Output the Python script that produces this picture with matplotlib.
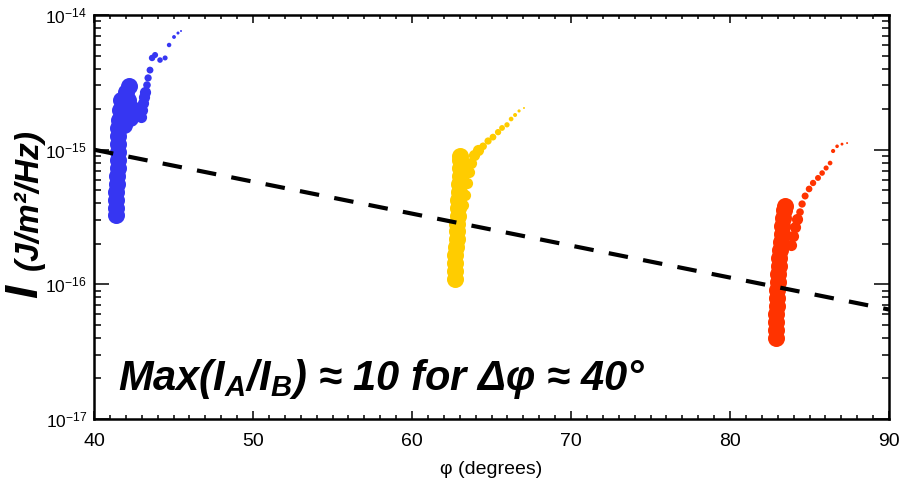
import numpy as np
import matplotlib
matplotlib.use('Agg')
import matplotlib.pyplot as plt
from matplotlib import font_manager, ticker

# --- data: phi in degrees, I in J/m^2/Hz ---
blue_core_phi = [41.38, 41.38, 41.38, 41.40, 41.42, 41.45, 41.48, 41.51, 41.51, 41.51,
                 41.51, 41.51, 41.55, 41.64, 41.70, 41.82, 42.01, 42.20, 42.14, 42.33,
                 42.26, 41.89]
blue_core_I = [3.27e-16, 3.69e-16, 4.23e-16, 4.85e-16, 5.56e-16, 6.38e-16, 7.31e-16, 8.39e-16,
               9.61e-16, 1.10e-15, 1.26e-15, 1.45e-15, 1.66e-15, 1.97e-15, 2.34e-15, 2.34e-15,
               2.68e-15, 2.97e-15, 2.34e-15, 2.04e-15, 1.72e-15, 1.53e-15]
blue_branch_phi = [42.96, 43.02, 43.08, 43.14, 43.21]
blue_branch_I = [1.75e-15, 1.97e-15, 2.22e-15, 2.46e-15, 2.68e-15]
blue_tail_phi = [43.33, 43.40, 43.52, 43.65, 43.84, 44.15, 44.47, 44.72, 45.03, 45.28, 45.47]
blue_tail_I = [3.02e-15, 3.41e-15, 3.90e-15, 4.80e-15, 5.05e-15, 4.63e-15, 4.80e-15,
               5.99e-15, 6.87e-15, 7.35e-15, 7.61e-15]

yellow_core_phi = [62.70, 62.70, 62.70, 62.70, 62.77, 62.83, 62.83, 62.83, 62.89, 62.89,
                   62.89, 62.96, 62.96, 63.02, 63.02, 63.02, 63.02]
yellow_core_I = [1.10e-16, 1.26e-16, 1.44e-16, 1.65e-16, 1.90e-16, 2.17e-16, 2.49e-16, 2.81e-16,
                 3.22e-16, 3.69e-16, 4.23e-16, 4.85e-16, 5.56e-16, 6.38e-16, 7.31e-16, 8.39e-16,
                 8.98e-16]
yellow_branch_phi = [63.21, 63.33, 63.46, 63.58, 63.71, 63.90, 64.15]
yellow_branch_I = [3.88e-16, 4.61e-16, 5.66e-16, 6.83e-16, 7.96e-16, 9.14e-16, 9.95e-16]
yellow_tail_phi = [64.47, 64.78, 65.09, 65.41, 65.66, 65.97, 66.23, 66.48, 66.73, 67.04]
yellow_tail_I = [1.06e-15, 1.16e-15, 1.24e-15, 1.35e-15, 1.45e-15, 1.53e-15, 1.69e-15,
                 1.81e-15, 1.94e-15, 2.04e-15]

red_core_phi = [82.89, 82.89, 82.89, 82.89, 82.96, 82.96, 82.96, 83.02, 83.02, 83.08,
                83.08, 83.14, 83.21, 83.27, 83.27, 83.33, 83.40, 83.46]
red_core_I = [4.00e-17, 4.58e-17, 5.26e-17, 6.03e-17, 6.91e-17, 7.93e-17, 9.09e-17, 1.04e-16,
              1.19e-16, 1.37e-16, 1.57e-16, 1.80e-16, 2.06e-16, 2.37e-16, 2.71e-16, 3.11e-16,
              3.57e-16, 3.82e-16]
red_branch_phi = [83.84, 83.96, 84.09, 84.21]
red_branch_I = [1.96e-16, 2.29e-16, 2.67e-16, 3.06e-16]
red_tail_phi = [84.40, 84.53, 84.72, 84.97, 85.22, 85.53, 85.79, 86.04, 86.29, 86.48,
                86.73, 87.04, 87.36]
red_tail_I = [3.44e-16, 3.95e-16, 4.53e-16, 5.11e-16, 5.66e-16, 6.17e-16, 6.71e-16, 7.31e-16,
              7.96e-16, 9.78e-16, 1.06e-15, 1.10e-15, 1.12e-15]

fit_phi = [40, 90]
fit_I = [1.0e-15, 6.5e-17]

y_decades = [1e-17, 1e-16, 1e-15, 1e-14]
y_labels = ['10$^{-17}$', '10$^{-16}$', '10$^{-15}$', '10$^{-14}$']

# --- fonts ---
names = {f.name for f in font_manager.fontManager.ttflist}
narrow = 'Liberation Sans Narrow' if 'Liberation Sans Narrow' in names else 'Liberation Sans'
plt.rcParams['font.family'] = [narrow, 'DejaVu Sans']
plt.rcParams['mathtext.fontset'] = 'custom'
plt.rcParams['mathtext.rm'] = narrow
plt.rcParams['mathtext.it'] = narrow + ':italic:bold'
plt.rcParams['mathtext.bf'] = narrow + ':bold'

fig = plt.figure(figsize=(9.05, 4.96), dpi=100)
ax = fig.add_axes([0.1039, 0.1552, 0.8785, 0.8145])

groups = [
    ('#3636f2', blue_core_phi, blue_core_I, blue_branch_phi, blue_branch_I, blue_tail_phi, blue_tail_I),
    ('#ffcc00', yellow_core_phi, yellow_core_I, yellow_branch_phi, yellow_branch_I, yellow_tail_phi, yellow_tail_I),
    ('#ff3300', red_core_phi, red_core_I, red_branch_phi, red_branch_I, red_tail_phi, red_tail_I),
]
for col, cp, ci, bp, bi, tp, ti in groups:
    ax.scatter(cp, ci, s=150, color=col, linewidths=0, zorder=2)
    ax.scatter(bp, bi, s=65, color=col, linewidths=0, zorder=2)
    ax.scatter(tp, ti, s=np.linspace(30, 2, len(tp)), color=col, linewidths=0, zorder=2)

ax.plot(fit_phi, fit_I, color='k', lw=3, dashes=(4.7, 3.7), zorder=3)

ax.set_yscale('log')
ax.set_xlim(40, 90)
ax.set_ylim(1e-17, 1e-14)
ax.xaxis.set_major_locator(ticker.MultipleLocator(10))
ax.xaxis.set_minor_locator(ticker.MultipleLocator(1))
ax.yaxis.set_major_locator(ticker.FixedLocator(y_decades))
ax.yaxis.set_major_formatter(ticker.FixedFormatter(y_labels))
ax.yaxis.set_minor_locator(ticker.LogLocator(base=10, subs=np.arange(2, 10), numticks=10))
ax.yaxis.set_minor_formatter(ticker.NullFormatter())

for s in ax.spines.values():
    s.set_linewidth(1.8)
ax.tick_params(which='both', direction='in', top=True, right=True, width=1.1)
ax.tick_params(axis='x', which='major', length=6, pad=10, labelsize=14)
ax.tick_params(axis='x', which='minor', length=3)
ax.tick_params(axis='y', which='major', length=11, pad=5, labelsize=12.5)
ax.tick_params(axis='y', which='minor', length=5)

ax.set_xlabel('φ (degrees)', fontsize=14, labelpad=8)

ax.text(-0.086, 0.317, 'I', transform=ax.transAxes, rotation=90, ha='center', va='center',
        fontsize=34, fontweight='bold', fontstyle='italic')
ax.text(-0.081, 0.543, '(J/m²/Hz)', transform=ax.transAxes, rotation=90, ha='center',
        va='center', fontsize=24, fontweight='bold', fontstyle='italic')

ax.text(0.03, 0.072, 'Max(I$_A$/I$_B$) ≈ 10 for Δφ ≈ 40°', transform=ax.transAxes,
        ha='left', va='baseline', fontsize=30, fontweight='bold', fontstyle='italic')

fig.savefig('out.png', dpi=100)
